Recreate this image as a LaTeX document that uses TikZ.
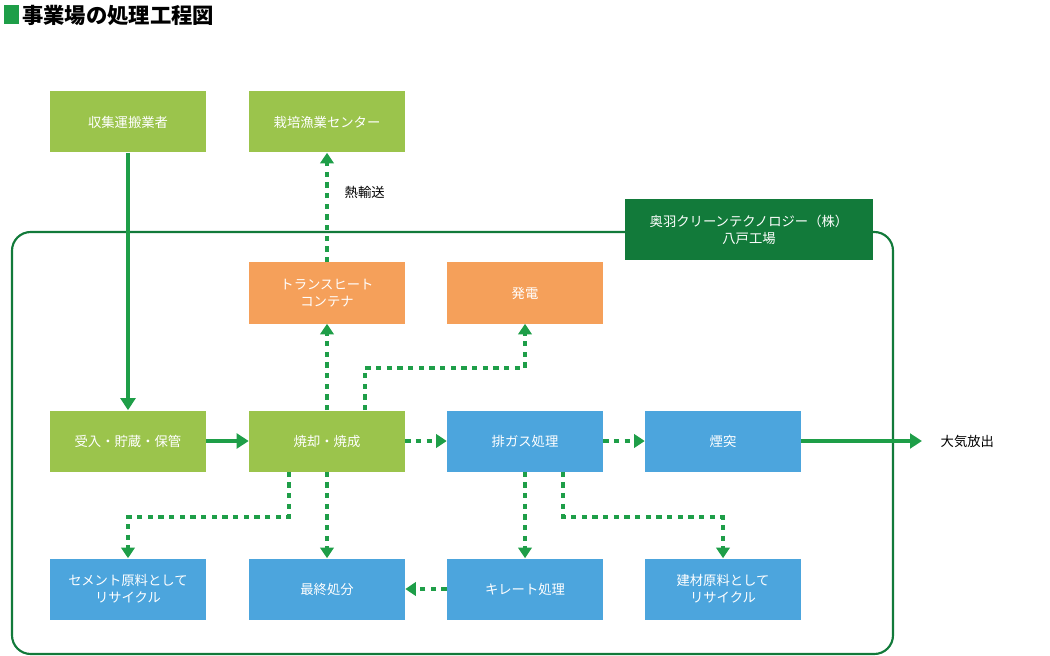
\documentclass[tikz,border=0pt]{standalone}
\usepackage{fontspec}
\setmainfont{Noto Sans CJK JP}
\usetikzlibrary{arrows.meta}
\definecolor{lg}{HTML}{9BC44C}
\definecolor{og}{HTML}{F5A05A}
\definecolor{bl}{HTML}{4CA5DD}
\definecolor{dg}{HTML}{127A3A}
\definecolor{ag}{HTML}{1E9E48}
\begin{document}
\begin{tikzpicture}[x=0.75pt,y=-0.75pt,
 box/.style={minimum width=117pt,minimum height=45.75pt,text=white,font=\fontsize{10}{13}\selectfont,align=center,inner sep=0pt},
 g/.style={box,fill=lg}, o/.style={box,fill=og}, b/.style={box,fill=bl},
 sol/.style={draw=ag,line width=2.6pt,-{Triangle[length=9pt,width=11pt]}},
 dot/.style={draw=ag,line width=3.4pt,dash pattern=on 4pt off 4pt,-{Triangle[length=8pt,width=10pt]}}]
\useasboundingbox (0,0) rectangle (1050,656);
\fill[ag] (4,5) rectangle (19,24);
\node[anchor=west,font=\bfseries\fontsize{16}{18}\selectfont,inner sep=0pt] (title) at (22,15) {事業場の処理工程図};
\draw[dg,line width=1.6pt,rounded corners=14pt] (12,232) rectangle (893,654);
\node[box,fill=dg,minimum width=186pt] (ou) at (749,230) {奥羽クリーンテクノロジー（株）\\八戸工場};
\node[g] (a) at (128,122) {収集運搬業者};
\node[g] (c) at (327,122) {栽培漁業センター};
\node[o] (t) at (327,293) {トランスヒート\\コンテナ};
\node[o] (h) at (525,293) {発電};
\node[g] (u) at (128,441) {受入・貯蔵・保管};
\node[g] (s) at (327,441) {焼却・焼成};
\node[b] (e) at (525,441) {排ガス処理};
\node[b] (k) at (723,441) {煙突};
\node[b] (r1) at (128,589) {セメント原料として\\リサイクル};
\node[b] (f) at (327,589) {最終処分};
\node[b] (ch) at (525,589) {キレート処理};
\node[b] (r2) at (723,589) {建材原料として\\リサイクル};
\node[font=\fontsize{10}{12}\selectfont,anchor=west] (nt) at (340,192) {熱輸送};
\node[font=\fontsize{10}{12}\selectfont,anchor=west] (ta) at (936,441) {大気放出};
\coordinate (taend) at (922,441);
\draw[sol] (a) -- (u);
\draw[sol] (u) -- (s);
\draw[sol] (k) -- (taend);
\draw[dot] (t) -- (c);
\draw[dot] (s) -- (t);
\draw[dot] ([xshift=28.5pt]s.north) |- (450,368) -| (h.south);
\draw[dot] (s) -- (e);
\draw[dot] (e) -- (k);
\draw[dot] ([xshift=-28.5pt]s.south) |- (200,517) -| (r1.north);
\draw[dot] (s) -- (f);
\draw[dot] (e) -- (ch);
\draw[dot] ([xshift=28.5pt]e.south) |- (650,517) -| (r2.north);
\draw[dot] (ch) -- (f);
\end{tikzpicture}
\end{document}
